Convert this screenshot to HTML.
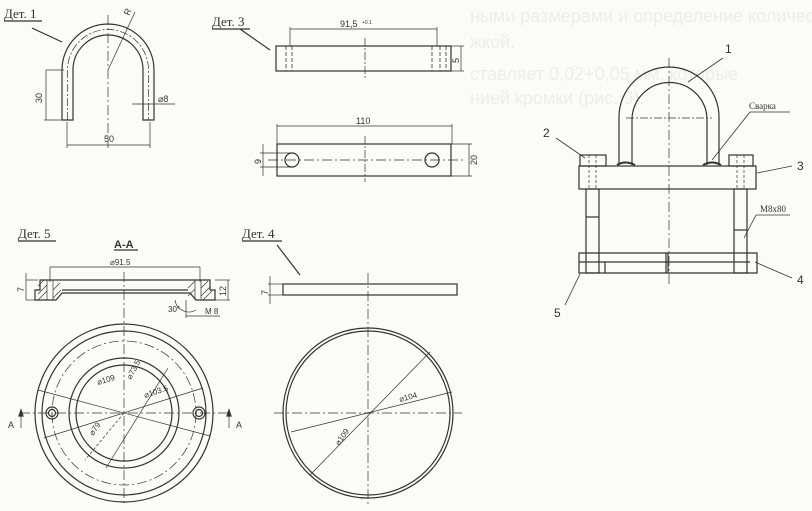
<!DOCTYPE html>
<html><head><meta charset="utf-8"><style>
html,body{margin:0;padding:0;background:#fbfbf9;}
svg{display:block}
text{font-family:"Liberation Sans",sans-serif;fill:#333}
.s{font-family:"Liberation Serif",serif}
</style></head><body>
<svg width="812" height="511" viewBox="0 0 812 511" xmlns="http://www.w3.org/2000/svg">
<g font-size="18" font-family="Liberation Serif">
<text x="470" y="22" style="fill:#ededeb">ными размерами и определение количества</text>
<text x="470" y="48" style="fill:#ededeb">жкой.</text>
<text x="470" y="80" style="fill:#ededeb">ставляет 0,02+0,05 мм, которые</text>
<text x="470" y="104" style="fill:#ededeb">нией кромки (рис. 9).</text>
</g>
<g stroke="#333" fill="none" stroke-width="1.2">
<!-- Det 1 -->
<line x1="4" y1="21" x2="42" y2="21"/>
<line x1="32" y1="28" x2="62" y2="42"/>
<path d="M62 120 V70 A46 46 0 0 1 154 70 V120 H143 V70 A35 35 0 0 0 73 70 V120 Z"/>
<path d="M67.5 120 V70 A40.5 40.5 0 0 1 148.5 70 V120" stroke-dasharray="8 2 2 2" stroke-width=".7"/>
<line x1="108" y1="15" x2="108" y2="148" stroke-dasharray="10 3 2 3" stroke-width=".7"/>
<line x1="46" y1="70" x2="64" y2="70" stroke-width=".7"/><line x1="44" y1="120" x2="62" y2="120" stroke-width=".7"/>
<line x1="46" y1="70" x2="46" y2="120" stroke-width=".7"/>
<line x1="67" y1="122" x2="67" y2="148" stroke-width=".7"/><line x1="150" y1="122" x2="150" y2="148" stroke-width=".7"/>
<line x1="67" y1="145" x2="150" y2="145" stroke-width=".7"/>
<line x1="108" y1="70" x2="135" y2="12" stroke-width=".7"/>
<line x1="132" y1="104" x2="175" y2="104" stroke-width=".7"/>
<!-- Det 3 -->
<line x1="212" y1="29" x2="250" y2="29"/>
<line x1="240" y1="29" x2="270" y2="50"/>
<rect x="276" y="46" width="175" height="25"/>
<g stroke-dasharray="4 2" stroke-width=".8"><line x1="286" y1="46" x2="286" y2="71"/><line x1="292" y1="46" x2="292" y2="71"/><line x1="432" y1="46" x2="432" y2="71"/><line x1="440" y1="46" x2="440" y2="71"/><line x1="446" y1="46" x2="446" y2="71"/></g>
<g stroke-width=".7"><line x1="290" y1="29" x2="437" y2="29"/><line x1="290" y1="27" x2="290" y2="46"/><line x1="437" y1="27" x2="437" y2="46"/>
<line x1="365" y1="38" x2="365" y2="80" stroke-dasharray="8 2 2 2"/>
<line x1="451" y1="46" x2="464" y2="46"/><line x1="451" y1="71" x2="464" y2="71"/><line x1="461" y1="46" x2="461" y2="71"/></g>
<rect x="277" y="144" width="174" height="32"/>
<circle cx="292" cy="160" r="7"/><circle cx="432" cy="160" r="7"/>
<g stroke-width=".7"><line x1="277" y1="126" x2="452" y2="126"/><line x1="277" y1="124" x2="277" y2="144"/><line x1="452" y1="124" x2="452" y2="144"/>
<line x1="268" y1="160" x2="465" y2="160" stroke-dasharray="10 3 2 3"/><line x1="365" y1="136" x2="365" y2="182" stroke-dasharray="8 2 2 2"/>
<line x1="260" y1="153" x2="292" y2="153"/><line x1="260" y1="167" x2="292" y2="167"/><line x1="263" y1="144" x2="263" y2="176"/>
<line x1="451" y1="144" x2="472" y2="144"/><line x1="451" y1="176" x2="472" y2="176"/><line x1="469" y1="144" x2="469" y2="176"/></g>
<!-- Assembly -->
<path d="M619 165 V117 A50 50 0 0 1 719 117 V165 M632 165 V120 A37.5 37.5 0 0 1 707 120 V165"/>
<line x1="669" y1="58" x2="669" y2="285" stroke-dasharray="10 3 2 3" stroke-width=".7"/>
<line x1="626" y1="118" x2="712" y2="118" stroke-dasharray="8 2 2 2" stroke-width=".7"/>
<rect x="579" y="166" width="177" height="23"/>
<rect x="580" y="155" width="26" height="11"/><rect x="729" y="155" width="24" height="11"/>
<rect x="586" y="189" width="13" height="84"/><rect x="734" y="189" width="13" height="84"/>
<line x1="586" y1="217" x2="599" y2="217"/><line x1="734" y1="230" x2="747" y2="230"/>
<g stroke-dasharray="3 2" stroke-width=".7"><line x1="589" y1="155" x2="589" y2="189"/><line x1="596" y1="155" x2="596" y2="189"/><line x1="737" y1="155" x2="737" y2="189"/><line x1="744" y1="155" x2="744" y2="189"/></g>
<path d="M579 253 H757 V273 H579 Z M579 262 H750 M605 273 V262"/>
<line x1="666" y1="253" x2="666" y2="273"/><line x1="668" y1="253" x2="668" y2="273"/>
<path d="M617 165 Q625 160 635 165 M703 165 Q712 160 721 165" stroke-width="2"/>
<g stroke-width=".8">
<line x1="723" y1="58" x2="688" y2="82"/>
<line x1="750" y1="112" x2="790" y2="112"/><line x1="750" y1="112" x2="712" y2="160"/>
<line x1="556" y1="138" x2="585" y2="158"/>
<line x1="792" y1="166" x2="757" y2="173"/>
<line x1="756" y1="215" x2="790" y2="215"/><line x1="756" y1="215" x2="744" y2="238"/>
<line x1="792" y1="278" x2="755" y2="262"/>
<line x1="565" y1="305" x2="580" y2="274"/>
</g>
<!-- Det 5 -->
<line x1="18" y1="241" x2="56" y2="241"/>
<line x1="114" y1="250" x2="138" y2="250"/>
<g stroke-width=".7"><line x1="50" y1="267" x2="200" y2="267"/><line x1="50" y1="267" x2="50" y2="282"/><line x1="200" y1="267" x2="200" y2="282"/>
<line x1="26" y1="280" x2="38" y2="280"/><line x1="26" y1="300" x2="38" y2="300"/><line x1="26" y1="273" x2="26" y2="300"/>
<line x1="215" y1="280" x2="230" y2="280"/><line x1="215" y1="300" x2="230" y2="300"/><line x1="228" y1="280" x2="228" y2="300"/>
<line x1="186" y1="300" x2="186" y2="318"/><line x1="186" y1="316" x2="220" y2="316"/>
<path d="M175 300 A14 14 0 0 0 196 310"/></g>
<path d="M40 280 H210 V290 H215 V300 H196 L190 293 H62 L56 300 H35 V290 H40 Z"/>
<line x1="62" y1="290" x2="188" y2="290"/>
<g stroke-width=".7"><line x1="47" y1="280" x2="47" y2="300"/><line x1="53" y1="280" x2="53" y2="300"/><line x1="195" y1="280" x2="195" y2="300"/><line x1="201" y1="280" x2="201" y2="300"/>
<path d="M38 286 L44 280 M38 294 L47 285 M38 300 L47 291 M53 290 L60 283 M53 298 L61 290 M188 288 L195 281 M188 296 L195 289 M201 288 L208 281 M201 296 L210 287 M203 300 L212 291"/>
<line x1="124" y1="272" x2="124" y2="505" stroke-dasharray="10 3 2 3"/></g>
<circle cx="124" cy="413" r="89"/><circle cx="124" cy="413" r="82"/>
<circle cx="124" cy="413" r="72" stroke-dasharray="10 3 2 3" stroke-width=".7"/>
<circle cx="124" cy="413" r="55"/><circle cx="124" cy="413" r="48"/>
<circle cx="52" cy="413" r="6"/><circle cx="52" cy="413" r="3.5"/><circle cx="199" cy="413" r="6"/><circle cx="199" cy="413" r="3.5"/>
<g stroke-width=".7"><line x1="20" y1="413" x2="230" y2="413" stroke-dasharray="10 3 2 3"/>
<line x1="38" y1="390" x2="210" y2="436"/><line x1="44" y1="438" x2="203" y2="388"/><line x1="106" y1="468" x2="168" y2="368"/>
<line x1="124" y1="413" x2="85" y2="460" stroke-dasharray="3 2"/>
<line x1="21" y1="413" x2="21" y2="428"/><line x1="229" y1="413" x2="229" y2="428"/></g>
<path d="M21 410 l-2 6 h4 z M229 410 l-2 6 h4 z" fill="#333"/>
<!-- Det 4 -->
<line x1="242" y1="241" x2="282" y2="241"/>
<line x1="277" y1="245" x2="300" y2="275"/>
<rect x="283" y="284" width="174" height="11"/>
<g stroke-width=".7"><line x1="268" y1="284" x2="283" y2="284"/><line x1="268" y1="295" x2="283" y2="295"/><line x1="270" y1="276" x2="270" y2="304"/>
<line x1="368" y1="273" x2="368" y2="505" stroke-dasharray="10 3 2 3"/>
<line x1="274" y1="413" x2="462" y2="413" stroke-dasharray="10 3 2 3"/>
<line x1="291" y1="432" x2="452" y2="392"/><line x1="310" y1="475" x2="430" y2="352"/></g>
<circle cx="368" cy="413" r="85"/><circle cx="368" cy="413" r="82"/>
</g>
<g font-size="9">
<text x="4" y="18" class="s" font-size="13">Дет. 1</text>
<text x="212" y="26" class="s" font-size="13">Дет. 3</text>
<text x="18" y="238" class="s" font-size="13">Дет. 5</text>
<text x="242" y="238" class="s" font-size="13">Дет. 4</text>
<text x="114" y="248" font-size="11" font-weight="bold">A-A</text>
<text transform="translate(42 103) rotate(-90)">30</text>
<text x="104" y="142">50</text>
<text x="158" y="102">⌀8</text>
<text transform="translate(129 16) rotate(-65)">R</text>
<text x="340" y="27">91,5</text><text x="362" y="24" font-size="5">+0.1</text>
<text transform="translate(459 63) rotate(-90)">5</text>
<text x="356" y="124">110</text>
<text transform="translate(261 164) rotate(-90)">9</text>
<text transform="translate(477 165) rotate(-90)">20</text>
<text x="110" y="265" font-size="8">⌀91.5</text>
<text transform="translate(24 292) rotate(-90)">7</text>
<text transform="translate(226 296) rotate(-90)">12</text>
<text x="168" y="312" font-size="8">30°</text>
<text x="205" y="314" font-size="8">M 8</text>
<text transform="translate(98 385) rotate(-17)" font-size="8">⌀109</text>
<text transform="translate(145 398) rotate(-18)" font-size="8">⌀103.5</text>
<text transform="translate(131 380) rotate(-62)" font-size="8">⌀73.5</text>
<text transform="translate(93 436) rotate(-55)" font-size="8">⌀79</text>
<text x="8" y="428">A</text><text x="236" y="428">A</text>
<text transform="translate(268 295) rotate(-90)">7</text>
<text transform="translate(400 402) rotate(-15)" font-size="8">⌀104</text>
<text transform="translate(339 446) rotate(-55)" font-size="8">⌀109</text>
<text x="725" y="53" font-size="12">1</text>
<text x="749" y="109" class="s" font-size="9">Сварка</text>
<text x="543" y="137" font-size="12">2</text>
<text x="797" y="170" font-size="12">3</text>
<text x="760" y="212" class="s" font-size="9">M8x80</text>
<text x="797" y="284" font-size="12">4</text>
<text x="554" y="317" font-size="12">5</text>
</g>
</svg>
</body></html>
